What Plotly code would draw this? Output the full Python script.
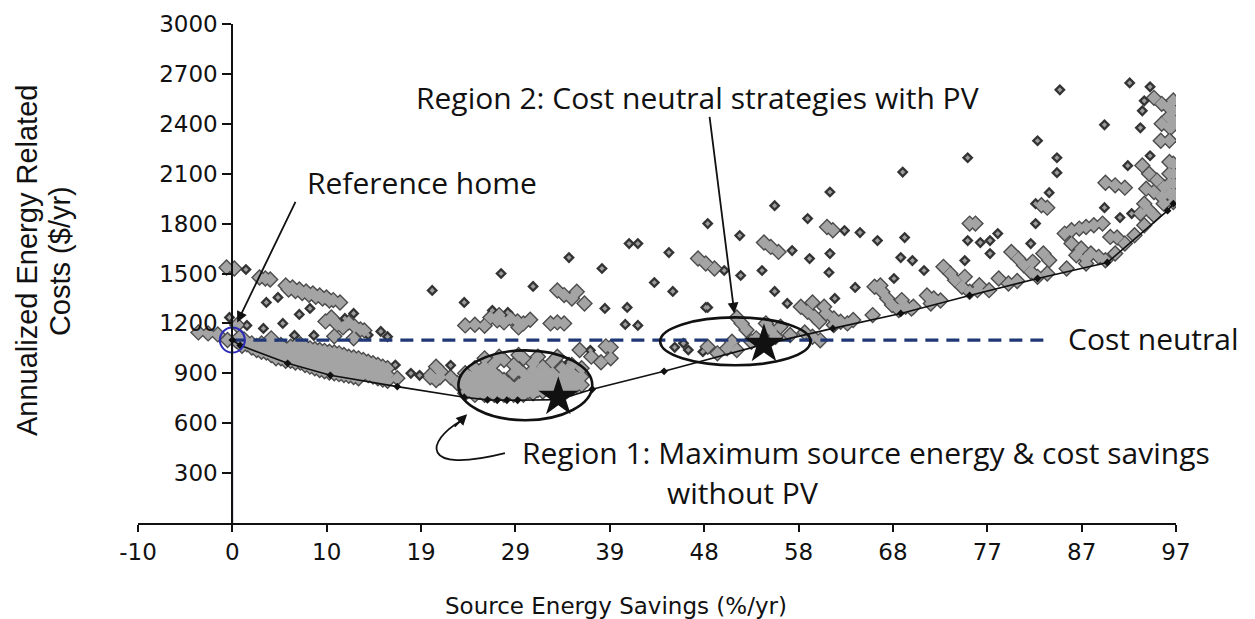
import plotly.graph_objects as go

# ---------------- axes ----------------
x_tick_labels = ["-10", "0", "10", "19", "29", "39", "48", "58", "68", "77", "87", "97"]
y_tick_values = [300, 600, 900, 1200, 1500, 1800, 2100, 2400, 2700, 3000]

# ---------------- reference home / cost-neutral level ----------------
ref_savings = 0.0
ref_cost = 1100
cost_neutral_end = 84

# ---------------- least-cost path (source energy savings %, $/yr) ----------------
frontier_savings = [0.0, 0.8, 5.7, 10.1, 17.0, 23.9, 26.3, 27.3, 28.3, 29.4, 33.6, 37.1,
                    44.5, 54.8, 61.9, 68.9, 76.0, 83.0, 90.2, 96.4, 97.0]
frontier_cost = [1100, 1068, 960, 888, 820, 756, 740, 738, 738, 738, 742, 804,
                 912, 1074, 1170, 1260, 1368, 1470, 1566, 1878, 1920]

# ---------------- highlighted optima ----------------
optimum_savings = [33.6, 54.8]
optimum_cost = [756, 1074]

# ---------------- simulated designs: isolated points ----------------
scattered_designs = [
    (1.4, 1524), (-0.3, 1236), (1.5, 1188), (3.5, 1326), (4.7, 1356), (8.0, 1290), (6.9, 1254),
    (5.2, 1200), (3.2, 1170), (11.6, 1230), (15.3, 1152), (12.5, 1260), (6.4, 1128), (8.4, 1128),
    (14.0, 1130), (16.0, 1120), (18.4, 900), (19.3, 888), (22.5, 948), (16.8, 950),
    (20.6, 1398), (23.9, 1326), (27.7, 1500), (31.0, 1422), (34.7, 1596), (38.1, 1530),
    (38.4, 1290), (26.8, 1278), (28.4, 1266), (40.7, 1296), (40.5, 1194), (41.8, 1188),
    (49.0, 1296), (36.9, 1038), (34.7, 966), (40.9, 1680), (41.8, 1680), (45.6, 1056),
    (47.0, 1040), (48.5, 1030), (46.5, 1080),
    (55.9, 1908), (59.3, 1830), (49.0, 1800), (45.0, 1626), (50.7, 1518), (43.5, 1446),
    (45.4, 1392), (48.8, 1296), (52.3, 1728), (57.7, 1638), (54.6, 1518), (52.4, 1488),
    (55.9, 1392), (57.2, 1320), (59.5, 1590), (63.1, 1758), (64.7, 1746), (66.5, 1698),
    (61.6, 1620), (61.5, 1506), (62.1, 1350), (64.2, 1416), (68.2, 1470), (68.9, 1596),
    (69.3, 1716), (70.1, 1578), (71.3, 1518), (75.5, 1578), (75.8, 1698), (77.1, 1686),
    (78.1, 1698), (78.9, 1740), (78.1, 1620), (82.3, 1680), (82.8, 1800), (82.8, 1920),
    (61.6, 1990), (69.1, 2110),
    (92.5, 2646), (94.6, 2622), (85.3, 2604), (94.0, 2538), (93.8, 2478), (89.9, 2394),
    (93.6, 2376), (83.0, 2298), (75.8, 2196), (85.0, 2196), (85.0, 2106), (94.6, 2208),
    (92.3, 2148), (84.2, 1986), (89.9, 1896), (91.5, 1836), (92.7, 1860),
]

# ---------------- simulated designs: dense groups ----------------
designs_near_reference = [
    (-3.5, 1146), (-2.5, 1140), (-1.5, 1134), (-0.6, 1536), (0.2, 1530), (0.5, 1190),
    (-0.5, 1100), (0.4, 1095), (1.2, 1104), (0.8, 1120), (2.8, 1476), (3.4, 1470), (3.9, 1464),
    (5.5, 1428), (6.2, 1416), (6.9, 1404), (7.6, 1392), (8.3, 1380), (9.0, 1368), (9.7, 1356),
    (10.4, 1340), (11.1, 1326), (5.8, 1404), (6.5, 1395), (7.2, 1383), (7.9, 1372), (8.6, 1360),
    (9.3, 1350), (10.0, 1338),
    (9.6, 1212), (10.2, 1236), (10.8, 1194), (11.4, 1176), (12.0, 1206), (12.6, 1182),
    (13.2, 1164), (13.6, 1158), (10.5, 1215), (4.0, 1110), (10.5, 1122), (12.5, 1110),
]

designs_low_savings = [
    (1, 1085), (1, 1065), (2, 1080), (2, 1055), (3, 1080), (3, 1050), (3, 1030),
    (4, 1075), (4, 1040), (4, 1010), (5, 1070), (5, 1030), (5, 990), (6, 1060), (6, 1020), (6, 975),
    (7, 1075), (7, 1040), (7, 1000), (7, 965), (8, 1050), (8, 1010), (8, 970), (8, 940),
    (9, 1040), (9, 1000), (9, 960), (9, 920), (10, 1030), (10, 990), (10, 950), (10, 905),
    (11, 1020), (11, 980), (11, 940), (11, 895), (12, 1000), (12, 960), (12, 920), (12, 885),
    (13, 990), (13, 950), (13, 905), (13, 870), (14, 970), (14, 930), (14, 890),
    (15, 950), (15, 910), (15, 870), (16, 930), (16, 890), (16, 855),
    (1.5, 1075), (2.5, 1065), (2.5, 1040), (3.5, 1060), (3.5, 1025), (4.5, 1055), (4.5, 1020),
    (4.5, 990), (5.5, 1045), (5.5, 1005), (5.5, 975), (6.5, 1065), (6.5, 1030), (6.5, 995),
    (6.5, 965), (7.5, 1060), (7.5, 1020), (7.5, 980), (7.5, 950), (8.5, 1045), (8.5, 1005),
    (8.5, 965), (8.5, 930), (9.5, 1035), (9.5, 995), (9.5, 955), (9.5, 912), (10.5, 1025),
    (10.5, 985), (10.5, 945), (10.5, 900), (11.5, 1010), (11.5, 970), (11.5, 930), (11.5, 890),
    (12.5, 995), (12.5, 955), (12.5, 912), (12.5, 878), (13.5, 980), (13.5, 940), (13.5, 898),
    (14.5, 960), (14.5, 920), (14.5, 880), (15.5, 940), (15.5, 900), (15.5, 862),
    (17.0, 870), (20.4, 876), (21.4, 876), (22.5, 876), (21.0, 860), (23.2, 840),
    (20.4, 888), (21.0, 940), (21.5, 910),
]

designs_region1 = [
    (24, 780), (24, 820), (24, 860), (24, 900), (25, 770), (25, 810), (25, 850), (25, 890), (25, 930),
    (26, 770), (26, 810), (26, 850), (26, 890), (26, 940), (27, 770), (27, 810), (27, 850), (27, 900),
    (27, 960), (28, 770), (28, 810), (28, 860), (28, 980), (29, 770), (29, 810), (29, 900), (29, 950),
    (30, 770), (30, 810), (30, 850), (30, 900), (30, 990), (31, 780), (31, 820), (31, 870), (31, 920),
    (31, 960), (32, 790), (32, 830), (32, 880), (32, 940), (33, 800), (33, 840), (33, 900), (33, 970),
    (34, 790), (34, 840), (34, 880), (34, 930), (35, 810), (35, 850), (35, 900), (35, 950),
    (36, 830), (36, 880), (36, 930), (27.5, 1000), (29.5, 1010), (31.5, 1000), (26, 990), (33.5, 1000),
    (24.5, 800), (24.5, 840), (24.5, 880), (25.5, 790), (25.5, 830), (25.5, 870), (25.5, 910),
    (26.5, 790), (26.5, 830), (26.5, 870), (26.5, 915), (27.5, 790), (27.5, 830), (27.5, 875),
    (28.5, 790), (28.5, 835), (29.5, 790), (29.5, 830), (29.5, 925), (30.5, 790), (30.5, 830),
    (30.5, 875), (31.5, 800), (31.5, 845), (31.5, 895), (32.5, 810), (32.5, 855), (32.5, 910),
    (33.5, 820), (33.5, 870), (34.5, 815), (34.5, 860), (34.5, 905), (35.5, 830), (35.5, 875),
]

designs_mid_savings = [
    (33.5, 1398), (34.2, 1370), (35.0, 1350), (36.3, 1320), (35.5, 1390),
    (24, 1188), (25, 1192), (26, 1186), (26.6, 1236), (27.3, 1218), (28, 1206), (28.7, 1230),
    (29.4, 1212), (30, 1200), (30.7, 1222), (32.8, 1200), (33.5, 1206), (34.2, 1200),
    (27.5, 1250), (29.5, 1176), (39.0, 1056), (38.5, 1062), (37.0, 1000), (38.0, 966),
    (39.0, 990), (35.8, 1040), (50.0, 1020), (49.0, 1060), (51.0, 1050), (52.0, 1040),
    (52.0, 1236), (52.5, 1200), (53.0, 1160), (55.0, 1200), (55.5, 1160), (56.0, 1120),
    (56.5, 1180), (57.5, 1130), (54.0, 1110), (53.5, 1090), (59.0, 1146), (59.8, 1120),
    (60.6, 1098), (51.5, 1090),
]

designs_with_pv = [
    (48.0, 1590), (48.8, 1560), (49.7, 1530), (54.8, 1686), (55.5, 1660), (56.3, 1630),
    (61.3, 1780), (61.9, 1760), (76.0, 1800), (76.6, 1800),
    (58.6, 1300), (59.3, 1270), (60.0, 1240), (60.5, 1210), (61.2, 1260), (62.0, 1230),
    (62.7, 1210), (63.4, 1200), (59.8, 1326), (61.0, 1300),
    (66.2, 1420), (67.0, 1390), (67.5, 1350), (68.0, 1310), (68.7, 1280), (69.4, 1300),
    (70.2, 1300), (69.0, 1340), (66.8, 1428), (71.6, 1368), (72.3, 1350), (73.0, 1338),
    (73.3, 1540), (74.0, 1500), (74.5, 1460), (75.2, 1420), (76.0, 1390), (76.8, 1400),
    (75.5, 1480), (77.0, 1430), (79.0, 1470), (80.0, 1440), (80.9, 1455),
    (80.3, 1630), (81.0, 1590), (81.6, 1550), (82.3, 1510), (83.0, 1480), (82.5, 1570),
    (62.0, 1190), (64.0, 1220), (66.0, 1250), (70.0, 1290), (72.0, 1320), (78.0, 1400),
    (84.0, 1500), (86.0, 1530), (88.0, 1560),
]

designs_high_savings = [
    (95.0, 2556), (95.8, 2520), (96.5, 2500), (96.5, 2440), (95.8, 2400), (96.6, 2380),
    (95.7, 2298), (96.6, 2300), (93.8, 2150), (94.5, 2100), (95.3, 2060), (96.0, 2020),
    (96.6, 2170), (96.6, 2100), (96.6, 2040), (96.6, 1980), (95.8, 1960), (95.0, 1990),
    (94.2, 2010), (96.0, 1920), (94.0, 1920), (94.5, 1880), (93.6, 1860),
    (90.0, 2046), (91.0, 2030), (92.0, 2016), (83.4, 1910), (84.0, 1896),
    (83.6, 1620), (84.2, 1580),
    (85.8, 1740), (86.5, 1760), (87.3, 1770), (88.0, 1780), (88.8, 1790), (89.7, 1800),
    (90.5, 1720), (91.2, 1716), (86.5, 1680), (87.5, 1650), (88.5, 1620), (89.3, 1600),
    (90.0, 1580), (87.0, 1610), (88.0, 1590),
    (91.0, 1620), (92.0, 1680), (93.0, 1730), (94.0, 1790), (95.0, 1850),
    (97.0, 2540), (97.0, 2480), (97.0, 2420), (96.8, 2380), (97.0, 2160), (97.0, 2100),
    (97.0, 2040), (97.0, 1980), (97.0, 1930),
]


def unzip(pairs):
    return [p[0] for p in pairs], [p[1] for p in pairs]


clustered = (designs_near_reference + designs_low_savings + designs_region1 +
             designs_mid_savings + designs_with_pv + designs_high_savings)
cx, cy = unzip(clustered)
sx, sy = unzip(scattered_designs)

DARK = "#4a4a4a"
LIGHT = "#a4a4a4"
NAVY = "#1f3775"
INK = "#111111"

# evenly spaced savings ticks; the "0" tick sits on the reference home
tick_step = 107 / 11
x_tick_values = [tick_step * k for k in range(-1, 11)]

fig = go.Figure()


def markers(x, y, size, color):
    fig.add_trace(go.Scatter(
        x=x, y=y, mode="markers", hoverinfo="skip", showlegend=False,
        marker=dict(symbol="diamond", size=size, color=color, line=dict(width=0)),
    ))


# design cloud: dark outlines first, light fills on top
markers(cx, cy, 13, DARK)
markers(sx, sy, 9, "#333333")
markers(cx, cy, 10, LIGHT)
markers(sx, sy, 4, "#9c9c9c")

# reference home: vertical guide and cost-neutral level
fig.add_trace(go.Scatter(
    x=[ref_savings, ref_savings], y=[0, ref_cost], mode="lines", hoverinfo="skip",
    showlegend=False, line=dict(color="#22227a", width=1.6),
))
fig.add_trace(go.Scatter(
    x=[ref_savings, cost_neutral_end], y=[ref_cost, ref_cost], mode="lines", hoverinfo="skip",
    showlegend=False, line=dict(color=NAVY, width=3.2, dash="13px,8px"),
))

# least-cost path
fig.add_trace(go.Scatter(
    x=frontier_savings, y=frontier_cost, mode="lines+markers", hoverinfo="skip",
    showlegend=False, line=dict(color=INK, width=1.6),
    marker=dict(symbol="diamond", size=6, color=INK),
))

# reference home marker
fig.add_trace(go.Scatter(
    x=[ref_savings], y=[ref_cost], mode="markers", hoverinfo="skip", showlegend=False,
    marker=dict(symbol="circle-open", size=25, color="#2a2ab8", line=dict(width=2)),
))

# optimum designs
fig.add_trace(go.Scatter(
    x=optimum_savings, y=optimum_cost, mode="markers", hoverinfo="skip", showlegend=False,
    marker=dict(symbol="star", size=30, color=INK, line=dict(width=0)),
))

# region ellipses
ellipse_style = dict(type="circle", xref="x", yref="y", line=dict(color=INK, width=2.6),
                     fillcolor="rgba(0,0,0,0)", layer="above")
fig.add_shape(x0=23.3, x1=37.1, y0=618, y1=1038, **ellipse_style)
fig.add_shape(x0=44.1, x1=59.6, y0=948, y1=1236, **ellipse_style)

# curved pointer for region 1
fig.add_shape(type="path", xref="x", yref="y",
              path="M 28.1,420 C 19.1,288 20.1,498 23.5,612",
              line=dict(color=INK, width=1.8), layer="above")

text_font = dict(family="Open Sans", size=30, color=INK)
axis_title_font = dict(family="Liberation Sans", size=29, color=INK)
arrow = dict(showarrow=True, arrowhead=2, arrowsize=1.2, arrowwidth=1.8, arrowcolor=INK, text="")
label = dict(showarrow=False, xanchor="left", yanchor="middle", font=text_font)

annotations = [
    dict(x=7.5, y=2046, text="Reference home", **label),
    dict(x=0.5, y=1206, ax=59, ay=-122, **arrow),
    dict(x=18.7, y=2556, text="Region 2: Cost neutral strategies with PV", **label),
    dict(x=51.75, y=1260, ax=-25, ay=-198, **arrow),
    dict(x=85.9, y=1110, text="Cost neutral", **label),
    dict(x=29.7, y=426, text="Region 1: Maximum source energy &amp; cost savings", **label),
    dict(x=44.6, y=186, text="without PV", **label),
    dict(x=24.2, y=654, ax=-14, ay=14, **arrow),
    dict(x=-0.1069, y=0.525, xref="paper", yref="paper", text="Annualized Energy Related",
         textangle=-90, showarrow=False, xanchor="center", yanchor="middle", font=axis_title_font),
    dict(x=-0.0751, y=0.525, xref="paper", yref="paper", text="Costs ($/yr)",
         textangle=-90, showarrow=False, xanchor="center", yanchor="middle", font=axis_title_font),
    dict(x=0.4605, y=-0.166, xref="paper", yref="paper", text="Source Energy Savings (%/yr)",
         showarrow=False, xanchor="center", yanchor="middle",
         font=dict(family="DejaVu Sans", size=23, color=INK)),
]

tick_font = dict(family="DejaVu Sans", size=23, color=INK)

fig.update_layout(
    width=1255, height=619,
    margin=dict(l=138, r=79, t=24, b=96),
    paper_bgcolor="white", plot_bgcolor="white",
    showlegend=False,
    annotations=annotations,
    xaxis=dict(
        range=[x_tick_values[0], x_tick_values[-1]],
        tickvals=x_tick_values, ticktext=x_tick_labels,
        showgrid=False, zeroline=False,
        showline=True, linecolor=INK, linewidth=2,
        ticks="outside", ticklen=7, tickwidth=2, tickcolor=INK,
        tickfont=tick_font,
    ),
    yaxis=dict(
        range=[0, 3000], tickvals=y_tick_values,
        anchor="free", position=(0 - x_tick_values[0]) / (x_tick_values[-1] - x_tick_values[0]),
        showgrid=False, zeroline=False,
        showline=True, linecolor=INK, linewidth=2,
        ticks="outside", ticklen=9, tickwidth=2, tickcolor=INK,
        tickfont=tick_font,
    ),
)

fig.write_html("out.html")
